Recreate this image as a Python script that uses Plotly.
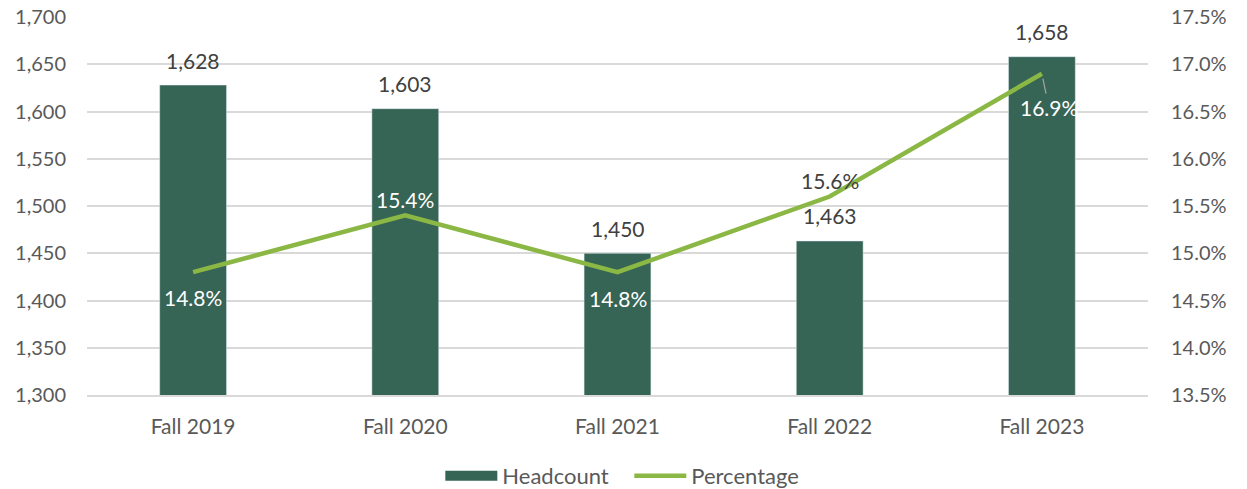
import plotly.graph_objects as go

terms = ["Fall 2019", "Fall 2020", "Fall 2021", "Fall 2022", "Fall 2023"]
headcount = [1628, 1603, 1450, 1463, 1658]
percentage = [14.8, 15.4, 14.8, 15.6, 16.9]

bar_color = "#366455"
line_color = "#8BB745"
font_name = "Lato, 'Open Sans', sans-serif"

# label placement for the percentage series (pixel shift, colour)
pct_shift = [-25, 16, -26, 16, None]
pct_col = ["white", "white", "white", "#404040", "white"]

fig = go.Figure()

fig.add_trace(go.Bar(
    x=terms, y=headcount, name="Headcount",
    marker=dict(color=bar_color),
    yaxis="y", showlegend=False,
))
# legend entry drawn as a wide block like the original
fig.add_trace(go.Scatter(
    x=[None], y=[None], mode="lines", name="Headcount",
    line=dict(color=bar_color, width=13),
))

fig.add_trace(go.Scatter(
    x=terms, y=percentage, name="Percentage",
    mode="lines",
    line=dict(color=line_color, width=4.5),
    yaxis="y2",
))

# bar value labels
for t, v in zip(terms, headcount):
    fig.add_annotation(x=t, y=v, yref="y", text=f"{v:,}", showarrow=False,
                       yanchor="middle", yshift=25,
                       font=dict(size=21, color="#404040", family=font_name))

# percentage labels
for t, v, s, c in zip(terms, percentage, pct_shift, pct_col):
    if s is None:
        fig.add_annotation(x=t, y=v, yref="y2", text=f"{v:.1f}%",
                           showarrow=True, arrowhead=0, arrowcolor="#a6a6a6",
                           arrowwidth=1.2, ax=7, ay=34, standoff=5,
                           font=dict(size=21, color=c, family=font_name))
    else:
        fig.add_annotation(x=t, y=v, yref="y2", text=f"{v:.1f}%",
                           showarrow=False, yanchor="middle", yshift=s,
                           font=dict(size=21, color=c, family=font_name))

fig.update_layout(
    width=1247, height=489,
    margin=dict(l=87, r=99, t=17, b=94, autoexpand=False),
    plot_bgcolor="white", paper_bgcolor="white",
    font=dict(family=font_name, size=20, color="#595959"),
    bargap=0.685,
    xaxis=dict(showline=True, linecolor="#d9d9d9", linewidth=1.5,
               ticks="", ticklabelstandoff=12, automargin=False,
               tickfont=dict(size=21, color="#595959")),
    yaxis=dict(range=[1300, 1700], dtick=50, tickformat=",",
               showgrid=True, gridcolor="#d9d9d9", gridwidth=1.5,
               zeroline=False, ticks="", ticklabelstandoff=20,
               automargin=False,
               tickfont=dict(size=20, color="#595959")),
    yaxis2=dict(range=[13.5, 17.5], dtick=0.5, tickformat=".1f",
                ticksuffix="%", overlaying="y", side="right",
                showgrid=False, zeroline=False, ticks="",
                ticklabelstandoff=22, automargin=False,
                tickfont=dict(size=20, color="#595959")),
    legend=dict(orientation="h", x=0.333, xanchor="left", y=-0.214,
                yanchor="middle", itemwidth=52, entrywidth=122,
                font=dict(size=22, color="#595959")),
)

# drop the default page margin so the figure sits at the window corner
fig.write_html("out.html", config={"displayModeBar": False},
               post_script="document.body.style.margin='0';")
